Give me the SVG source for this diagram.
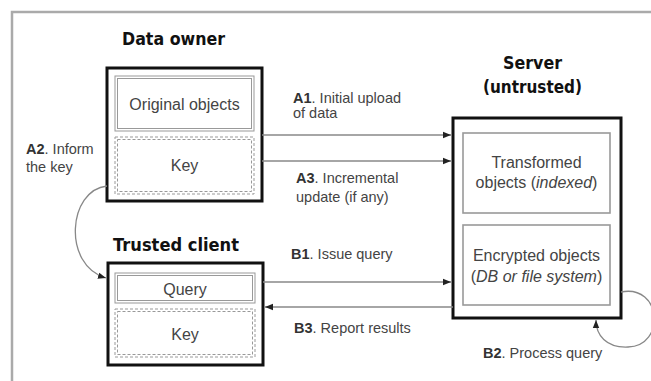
<svg xmlns="http://www.w3.org/2000/svg" width="651" height="381" viewBox="0 0 651 381">
<defs>
<style>
.title{font-family:"DejaVu Sans",sans-serif;font-weight:bold;fill:#111;}
.txt{font-family:"Liberation Sans",Arial,sans-serif;font-size:16px;fill:#444;text-anchor:middle;}
.lbl{font-family:"Liberation Sans",Arial,sans-serif;font-size:14.5px;fill:#444;}
.lbl tspan.b{font-weight:bold;fill:#333;}
.outer{fill:#fff;stroke:#111;stroke-width:3;}
.dbl{fill:none;stroke:#999;stroke-width:1;}
.dsh{fill:none;stroke:#999;stroke-width:1;stroke-dasharray:3 2;}
.inner{fill:none;stroke:#999;stroke-width:1.6;}
.conn{fill:none;stroke:#888;stroke-width:1.3;}
</style>
<marker id="ah" viewBox="0 0 10 10" refX="10" refY="5" markerWidth="8" markerHeight="8" markerUnits="userSpaceOnUse" orient="auto">
<path d="M0,1 L10,5 L0,9 Z" fill="#222"/>
</marker>
</defs>
<rect x="0" y="0" width="651" height="381" fill="#fff"/>
<path d="M12,381 V12 H651" fill="none" stroke="#aaa" stroke-width="2.5"/>

<g id="data-owner">
<text class="title" x="122" y="45" font-size="17" textLength="103" lengthAdjust="spacingAndGlyphs">Data owner</text>
<rect class="outer" x="107" y="68" width="155" height="133"/>
<rect class="dbl" x="115" y="76" width="139" height="55"/>
<rect class="dbl" x="117.5" y="78.5" width="134" height="50"/>
<text class="txt" x="184.5" y="109.5">Original objects</text>
<rect class="dsh" x="115" y="137" width="139" height="57"/>
<rect class="dsh" x="117.5" y="139.5" width="134" height="52"/>
<text class="txt" x="184.5" y="171">Key</text>
</g>

<g id="server">
<text class="title" x="503" y="69" font-size="17" textLength="59" lengthAdjust="spacingAndGlyphs">Server</text>
<text class="title" x="483" y="93" font-size="17" textLength="99" lengthAdjust="spacingAndGlyphs">(untrusted)</text>
<rect class="outer" x="453" y="118" width="168" height="200"/>
<rect class="inner" x="463" y="133" width="147" height="80"/>
<text class="txt" x="536.5" y="168">Transformed</text>
<text class="txt" x="536.5" y="188">objects (<tspan font-style="italic">indexed</tspan>)</text>
<rect class="inner" x="463" y="225" width="147" height="80"/>
<text class="txt" x="536.5" y="261">Encrypted objects</text>
<text class="txt" x="536.5" y="282">(<tspan font-style="italic">DB or file system</tspan>)</text>
</g>

<g id="trusted-client">
<text class="title" x="113" y="251" font-size="17" textLength="126" lengthAdjust="spacingAndGlyphs">Trusted client</text>
<rect class="outer" x="108" y="263" width="155" height="102"/>
<rect class="dbl" x="115" y="273" width="140" height="30"/>
<rect class="dbl" x="117.5" y="275.5" width="135" height="25"/>
<text class="txt" x="185" y="295">Query</text>
<rect class="dsh" x="115" y="309" width="140" height="48"/>
<rect class="dsh" x="117.5" y="311.5" width="135" height="43"/>
<text class="txt" x="185" y="340">Key</text>
</g>

<g id="connectors">
<line class="conn" x1="262" y1="135" x2="451" y2="135" marker-end="url(#ah)"/>
<line class="conn" x1="262" y1="161" x2="451" y2="161" marker-end="url(#ah)"/>
<line class="conn" x1="263" y1="282" x2="451" y2="282" marker-end="url(#ah)"/>
<line class="conn" x1="453" y1="307" x2="265" y2="307" marker-end="url(#ah)"/>
<path class="conn" d="M107,186 C68,190 62,265 106,278" marker-end="url(#ah)"/>
<path class="conn" d="M621,292 C662,284 666,346 628,347 C606,348 596,335 596,320" marker-end="url(#ah)"/>
</g>

<g id="labels">
<text class="lbl" x="293" y="103"><tspan class="b">A1</tspan>. Initial upload</text>
<text class="lbl" x="293" y="118">of data</text>
<text class="lbl" x="296" y="183"><tspan class="b">A3</tspan>. Incremental</text>
<text class="lbl" x="296" y="202">update (if any)</text>
<text class="lbl" x="26" y="154"><tspan class="b">A2</tspan>. Inform</text>
<text class="lbl" x="26" y="172">the key</text>
<text class="lbl" x="291" y="259"><tspan class="b">B1</tspan>. Issue query</text>
<text class="lbl" x="294" y="333"><tspan class="b">B3</tspan>. Report results</text>
<text class="lbl" x="483" y="358"><tspan class="b">B2</tspan>. Process query</text>
</g>
</svg>
